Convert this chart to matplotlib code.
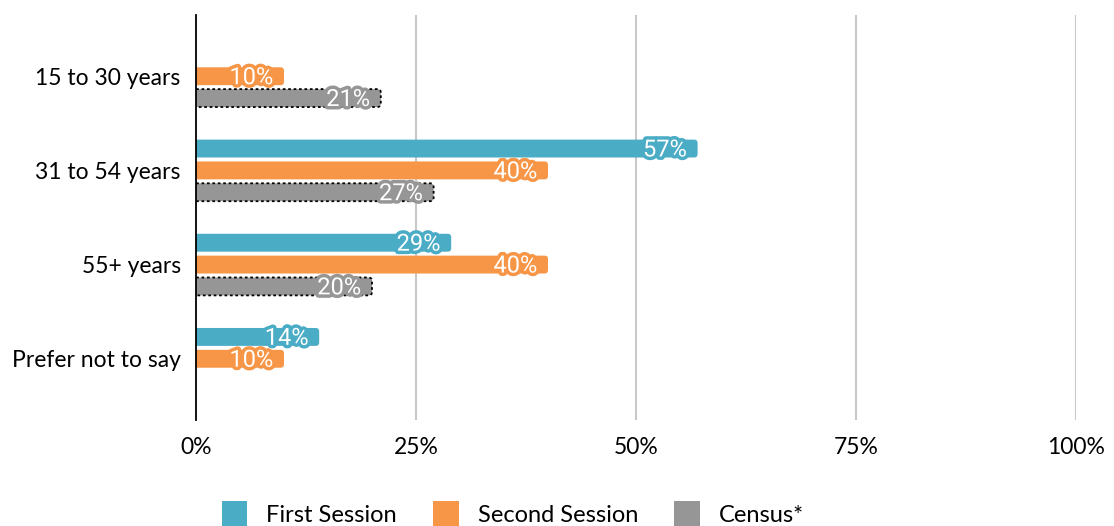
import matplotlib
matplotlib.use("Agg")
import matplotlib.pyplot as plt
import matplotlib.patheffects as pe
from matplotlib.patches import FancyBboxPatch, Patch
import numpy as np

categories = ["15 to 30 years", "31 to 54 years", "55+ years", "Prefer not to say"]
series_names = ["First Session", "Second Session", "Census*"]
first_session = [None, 57, 29, 14]
second_session = [10, 40, 40, 10]
census = [21, 27, 20, None]
xticks = [0, 25, 50, 75, 100]
xtick_labels = ["0%", "25%", "50%", "75%", "100%"]
colors = ["#4BACC6", "#F79646", "#969696"]

fig = plt.figure(figsize=(11.14, 5.26), dpi=100)
ax = fig.add_axes([196/1114, 1-420/526, 880/1114, 405/526])

tick_font = "Lato"
ax.set_xlim(0, 100)
ax.set_ylim(3.65, -0.65)

px_x = 880 / 100.0
px_y = 405 / 4.3
aspect = px_x / px_y
r = 3.5 / px_x

y = np.arange(len(categories))
offset = 0.232
height = 0.19
all_series = [first_session, second_session, census]
for si, (vals, col) in enumerate(zip(all_series, colors)):
    for ci, v in enumerate(vals):
        if v is None:
            continue
        yc = y[ci] + (si - 1) * offset
        x0 = -1.0
        kw = dict(boxstyle=f"round,pad=0,rounding_size={r}", mutation_aspect=aspect,
                  facecolor=col, zorder=3)
        if si == 2:
            kw.update(edgecolor="black", linestyle=(0, (1.5, 1.5)), linewidth=1.3)
        else:
            kw.update(linewidth=0)
        p = FancyBboxPatch((x0, yc - height / 2), v - x0, height, **kw)
        ax.add_patch(p)
        t = ax.text(v - 1.2, yc + 0.015, f"{v}%", ha="right", va="center",
                    fontsize=17, color="white", family="Roboto", zorder=5)
        t.set_path_effects([pe.withStroke(linewidth=5, foreground=col)])

ax.set_yticks(y)
ax.set_yticklabels(categories, fontsize=16.5, family=tick_font)
ax.set_xticks(xticks)
ax.set_xticklabels(xtick_labels, fontsize=16.5, family=tick_font)
ax.tick_params(axis="both", length=0)
ax.tick_params(axis="x", pad=12)
ax.tick_params(axis="y", pad=11)
for s in ["top", "right", "bottom"]:
    ax.spines[s].set_visible(False)
ax.spines["left"].set_color("black")
ax.spines["left"].set_linewidth(1.3)
ax.spines["left"].set_zorder(6)
for xv in xticks[1:]:
    ax.axvline(xv, color="#c8c8c8", linewidth=1.5, zorder=1)

handles = [Patch(facecolor=c, edgecolor="none") for c in colors]
fig.legend(handles, series_names, loc="center", bbox_to_anchor=(513/1114, 1-514/526),
           ncol=3, frameon=False, prop={"family": tick_font, "size": 17},
           handlelength=1.1, handleheight=1.32, columnspacing=1.53, handletextpad=0.8,
           borderpad=0, borderaxespad=0)

fig.savefig("out.png", dpi=100)
